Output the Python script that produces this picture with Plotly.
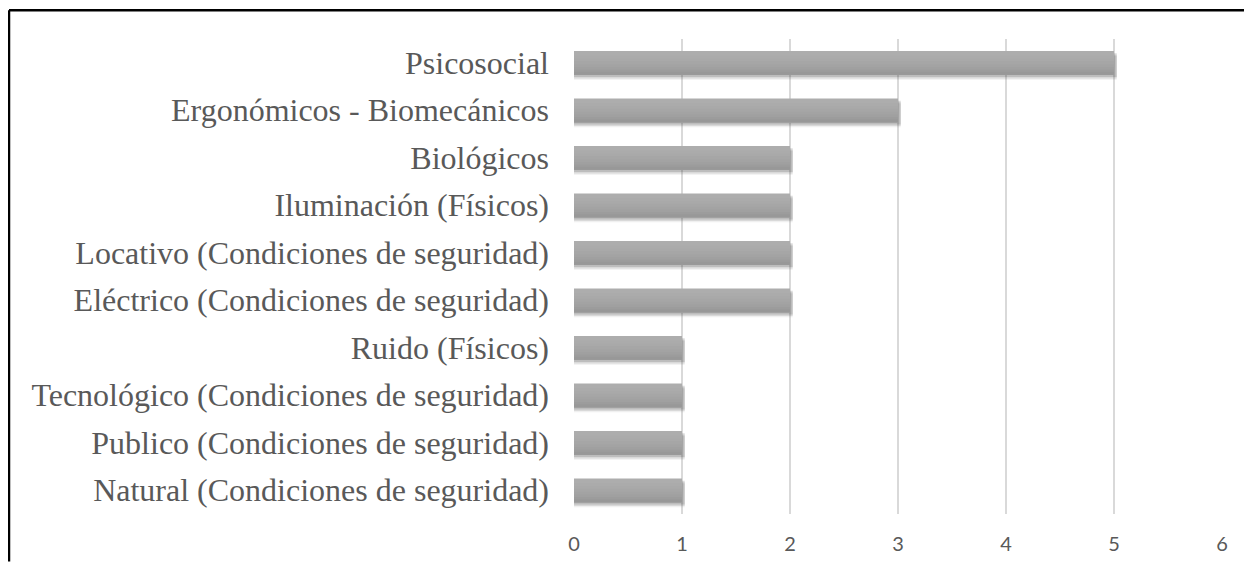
import plotly.graph_objects as go

categories = [
    "Psicosocial",
    "Ergonómicos - Biomecánicos",
    "Biológicos",
    "Iluminación (Físicos)",
    "Locativo (Condiciones de seguridad)",
    "Eléctrico (Condiciones de seguridad)",
    "Ruido (Físicos)",
    "Tecnológico (Condiciones de seguridad)",
    "Publico (Condiciones de seguridad)",
    "Natural (Condiciones de seguridad)",
]
values = [5, 3, 2, 2, 2, 2, 1, 1, 1, 1]
x_ticks = [0, 1, 2, 3, 4, 5, 6]

# page body has an 8px margin on every side; keep the figure inside the window
W, H = 1236, 559
ML, MR, MT, MB = 566, 22, 31, 48
pw, ph = W - ML - MR, H - MT - MB

fig = go.Figure()

# soft shadow layers (behind bars)
shadow_ext = 0.025
for op, dy in [(0.08, 0.11), (0.12, 0.08), (0.18, 0.05)]:
    fig.add_trace(go.Bar(
        y=categories, x=[v + shadow_ext for v in values], orientation="h",
        width=0.5, offset=-0.25 + dy,
        marker=dict(color=f"rgba(60,60,60,{op})", line=dict(width=0)),
        hoverinfo="skip", showlegend=False,
    ))

# main bar
fig.add_trace(go.Bar(
    y=categories, x=values, orientation="h",
    width=0.5, offset=-0.25,
    marker=dict(color="#adadad", line=dict(width=0)),
    showlegend=False,
))
# gradient strips toward the bottom (darker)
strips = [(0.40, "#ababab"), (0.34, "#a9a9a9"), (0.28, "#a6a6a6"), (0.22, "#a3a3a3"),
          (0.16, "#a0a0a0"), (0.11, "#9c9c9c"), (0.06, "#989898")]
for w, col in strips:
    fig.add_trace(go.Bar(
        y=categories, x=values, orientation="h",
        width=w, offset=0.25 - w,
        marker=dict(color=col, line=dict(width=0)),
        hoverinfo="skip", showlegend=False,
    ))

bx = (1 - ML) / pw
by = (H - MB - 2) / ph
bx_end = (W - ML) / pw      # right edge of the figure
by_end = -MB / ph           # bottom edge of the figure

fig.update_layout(
    width=W, height=H,
    margin=dict(l=ML, r=MR, t=MT, b=MB),
    barmode="overlay",
    paper_bgcolor="white", plot_bgcolor="white",
    showlegend=False,
    xaxis=dict(
        range=[0, 6], tickvals=x_ticks, ticktext=[str(t) for t in x_ticks],
        showgrid=True, gridcolor="#d9d9d9", gridwidth=1.5,
        zeroline=False, showline=False, ticks="",
        tickfont=dict(family="Lato, Open Sans, sans-serif", size=20, color="#595959"),
        ticklabelstandoff=16,
    ),
    yaxis=dict(
        categoryorder="array", categoryarray=categories,
        autorange=False, range=[len(categories) - 0.5, -0.5],
        showgrid=False, zeroline=False, showline=False, ticks="",
        tickfont=dict(family="Liberation Serif, Times New Roman, serif", size=32, color="#595959"),
        ticklabelstandoff=24,
    ),
    shapes=[
        dict(type="line", xref="paper", yref="paper", x0=bx, x1=bx, y0=by_end, y1=by,
             line=dict(color="black", width=2.5), layer="above"),
        dict(type="line", xref="paper", yref="paper", x0=bx, x1=bx_end, y0=by, y1=by,
             line=dict(color="black", width=2.5), layer="above"),
    ],
)

fig.write_html("out.html")
